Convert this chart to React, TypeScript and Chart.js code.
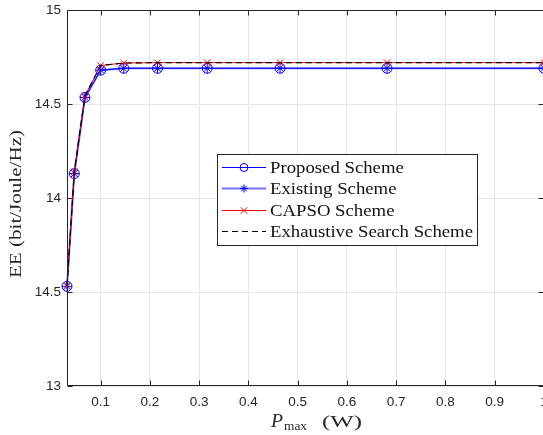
import React, { useEffect, useRef } from "react";
import { Chart, registerables } from "chart.js";

Chart.register(...registerables);

// ---- data ----
const pMax = [0.0316, 0.0464, 0.0681, 0.1, 0.1468, 0.2154, 0.3162, 0.4642, 0.6813, 1.0];
const proposed = [13.53, 14.13, 14.535, 14.68, 14.69, 14.69, 14.69, 14.69, 14.69, 14.69];
const existing = [13.53, 14.13, 14.535, 14.68, 14.69, 14.69, 14.69, 14.69, 14.69, 14.69];
const capso = [13.535, 14.14, 14.545, 14.705, 14.718, 14.72, 14.72, 14.72, 14.72, 14.72];
const exhaustive = [13.535, 14.14, 14.545, 14.705, 14.718, 14.72, 14.72, 14.72, 14.72, 14.72];

const seriesNames = ["Proposed Scheme", "Existing Scheme", "CAPSO Scheme", "Exhaustive Search Scheme"];

const xTicks = [0.1, 0.2, 0.3, 0.4, 0.5, 0.6, 0.7, 0.8, 0.9, 1.0];
const xTickLabels = ["0.1", "0.2", "0.3", "0.4", "0.5", "0.6", "0.7", "0.8", "0.9", "1"];
const yTicks = [13, 13.5, 14, 14.5, 15];
const yTickLabels = ["13", "14.5", "14", "14.5", "15"];

const xMin = 0.0316;
const xMax = 1.0;
const yMin = 13;
const yMax = 15;

const yTitle = "EE (bit/Joule/Hz)";
const xTitleMain = "P";
const xTitleSub = "max";
const xTitleUnit = "(W)";

const AX = "#262626";
const SERIF = "'Liberation Serif', 'Times New Roman', serif";
const SANS = "'Liberation Sans', Arial, sans-serif";

function toXY(xs: number[], ys: number[]) {
  return xs.map((x, i) => ({ x, y: ys[i] }));
}

function drawMarker(ctx: CanvasRenderingContext2D, kind: string, x: number, y: number, r: number, color: string) {
  ctx.save();
  ctx.strokeStyle = color;
  ctx.lineWidth = 1;
  ctx.setLineDash([]);
  ctx.beginPath();
  if (kind === "circle") {
    ctx.arc(x, y, r, 0, Math.PI * 2);
  } else if (kind === "star") {
    ctx.moveTo(x - r, y); ctx.lineTo(x + r, y);
    ctx.moveTo(x, y - r); ctx.lineTo(x, y + r);
    const d = r * 0.707;
    ctx.moveTo(x - d, y - d); ctx.lineTo(x + d, y + d);
    ctx.moveTo(x - d, y + d); ctx.lineTo(x + d, y - d);
  } else if (kind === "crossRot") {
    const d = r * 0.707;
    ctx.moveTo(x - d, y - d); ctx.lineTo(x + d, y + d);
    ctx.moveTo(x - d, y + d); ctx.lineTo(x + d, y - d);
  }
  ctx.stroke();
  ctx.restore();
}

function fitText(ctx: CanvasRenderingContext2D, text: string, x: number, y: number, width: number) {
  const w = ctx.measureText(text).width;
  ctx.save();
  ctx.translate(x, y);
  ctx.scale(width / w, 1);
  ctx.fillText(text, 0, 0);
  ctx.restore();
}

const overlayPlugin = {
  id: "overlay",
  afterDraw(chart: any) {
    const ctx: CanvasRenderingContext2D = chart.ctx;
    const a = chart.chartArea;
    const xs = chart.scales.x;
    const ys = chart.scales.y;
    ctx.save();

    // axes box
    const L = Math.round(a.left) + 0.5;
    const R = Math.round(a.right) - 0.5;
    const T = Math.round(a.top) + 0.5;
    const B = Math.round(a.bottom) - 0.5;
    ctx.strokeStyle = AX;
    ctx.lineWidth = 1;
    ctx.beginPath();
    ctx.rect(L, T, R - L, B - T);
    ctx.stroke();

    // inward tick marks
    const tl = 5;
    ctx.beginPath();
    xTicks.forEach((v) => {
      const px = Math.round(xs.getPixelForValue(v)) + 0.5;
      ctx.moveTo(px, B); ctx.lineTo(px, B - tl);
      ctx.moveTo(px, T); ctx.lineTo(px, T + tl);
    });
    yTicks.forEach((v) => {
      const py = Math.round(ys.getPixelForValue(v)) + 0.5;
      ctx.moveTo(L, py); ctx.lineTo(L + tl, py);
      ctx.moveTo(R, py); ctx.lineTo(R - tl, py);
    });
    ctx.stroke();

    // y title
    ctx.fillStyle = AX;
    ctx.font = `17px ${SERIF}`;
    ctx.textAlign = "center";
    ctx.textBaseline = "middle";
    {
      const w = ctx.measureText(yTitle).width;
      ctx.save();
      ctx.translate(17, 204);
      ctx.rotate(-Math.PI / 2);
      ctx.scale(148 / w, 1);
      ctx.fillText(yTitle, 0, 0);
      ctx.restore();
    }

    // x title
    ctx.textAlign = "left";
    ctx.textBaseline = "alphabetic";
    ctx.font = `italic 18px ${SERIF}`;
    fitText(ctx, xTitleMain, 271, 426.5, 12);
    ctx.font = `13px ${SERIF}`;
    fitText(ctx, xTitleSub, 284, 430, 23);
    ctx.font = `17px ${SERIF}`;
    fitText(ctx, xTitleUnit, 322, 426.5, 40);

    // legend
    const bx = 217.5, by = 154.5, bw = 260, bh = 91;
    ctx.fillStyle = "#ffffff";
    ctx.fillRect(bx, by, bw, bh);
    ctx.strokeStyle = AX;
    ctx.lineWidth = 1;
    ctx.strokeRect(bx, by, bw, bh);

    const rows = [166.7, 188.3, 210, 230.7];
    const styles = [
      { color: "#0000ff", width: 1, dash: [] as number[], marker: "circle", r: 4 },
      { color: "rgba(70,70,255,0.75)", width: 2, dash: [] as number[], marker: "star", r: 4, mcolor: "#0000ff" },
      { color: "#ff0000", width: 1, dash: [] as number[], marker: "crossRot", r: 4.5 },
      { color: "#000000", width: 1, dash: [6, 4], marker: "", r: 0 },
    ];
    ctx.font = `17px ${SERIF}`;
    const f = 203 / ctx.measureText(seriesNames[3]).width;
    rows.forEach((ry, i) => {
      const s: any = styles[i];
      const y = Math.round(ry) + 0.5;
      ctx.save();
      ctx.strokeStyle = s.color;
      ctx.lineWidth = s.width;
      ctx.setLineDash(s.dash);
      ctx.beginPath();
      ctx.moveTo(222, y);
      ctx.lineTo(266, y);
      ctx.stroke();
      ctx.restore();
      if (s.marker) drawMarker(ctx, s.marker, 244, y, s.r, s.mcolor || s.color);
      ctx.save();
      ctx.fillStyle = "#111111";
      ctx.textAlign = "left";
      ctx.textBaseline = "alphabetic";
      ctx.translate(270, ry + 6);
      ctx.scale(f, 1);
      ctx.fillText(seriesNames[i], 0, 0);
      ctx.restore();
    });

    ctx.restore();
  },
};

export default function App() {
  const ref = useRef<HTMLCanvasElement | null>(null);

  useEffect(() => {
    if (!ref.current) return;
    const chart = new Chart(ref.current, {
      type: "line",
      data: {
        datasets: [
          {
            label: seriesNames[0],
            data: toXY(pMax, proposed),
            borderColor: "#0000ff",
            backgroundColor: "rgba(0,0,0,0)",
            borderWidth: 1,
            pointStyle: "circle",
            pointRadius: 5,
            pointBorderWidth: 1,
            pointBorderColor: "#0000ff",
            pointBackgroundColor: "rgba(0,0,0,0)",
            tension: 0,
            clip: false as any,
            order: 2,
          },
          {
            label: seriesNames[1],
            data: toXY(pMax, existing),
            borderColor: "rgba(70,70,255,0.75)",
            backgroundColor: "rgba(0,0,0,0)",
            borderWidth: 2,
            pointStyle: "star",
            pointRadius: 5,
            pointBorderWidth: 1,
            pointBorderColor: "#0000ff",
            pointBackgroundColor: "rgba(0,0,0,0)",
            tension: 0,
            clip: false as any,
            order: 3,
          },
          {
            label: seriesNames[2],
            data: toXY(pMax, capso),
            borderColor: "#ff0000",
            backgroundColor: "rgba(0,0,0,0)",
            borderWidth: 1,
            pointStyle: "crossRot",
            pointRadius: 4.5,
            pointBorderWidth: 1,
            pointBorderColor: "#ff0000",
            tension: 0,
            clip: false as any,
            order: 1,
          },
          {
            label: seriesNames[3],
            data: toXY(pMax, exhaustive),
            borderColor: "#000000",
            backgroundColor: "rgba(0,0,0,0)",
            borderWidth: 1.2,
            borderDash: [6, 4],
            pointRadius: 0,
            tension: 0,
            clip: false as any,
            order: 0,
          },
        ],
      },
      options: {
        animation: false,
        responsive: false,
        maintainAspectRatio: false,
        layout: { padding: { left: 0, top: 10, right: 12, bottom: 0 } },
        plugins: {
          legend: { display: false },
          tooltip: { enabled: false },
        },
        scales: {
          x: {
            type: "linear",
            min: xMin,
            max: xMax,
            afterBuildTicks: (scale: any) => {
              scale.ticks = xTicks.map((v) => ({ value: v }));
            },
            afterFit: (scale: any) => {
              scale.height = 49;
              scale.paddingLeft = 0;
              scale.paddingRight = 0;
            },
            grid: { color: "#e6e6e6", lineWidth: 1, drawTicks: false },
            border: { display: false },
            ticks: {
              autoSkip: false,
              maxRotation: 0,
              padding: 8,
              color: AX,
              font: { family: SANS, size: 13.5 },
              callback: (_v: any, i: number) => xTickLabels[i],
            },
          },
          y: {
            type: "linear",
            min: yMin,
            max: yMax,
            afterBuildTicks: (scale: any) => {
              scale.ticks = yTicks.map((v) => ({ value: v }));
            },
            afterFit: (scale: any) => {
              scale.width = 67;
              scale.paddingTop = 0;
              scale.paddingBottom = 0;
            },
            grid: { color: "#e6e6e6", lineWidth: 1, drawTicks: false },
            border: { display: false },
            ticks: {
              padding: 6,
              color: AX,
              font: { family: SANS, size: 13.5 },
              callback: (_v: any, i: number) => yTickLabels[i],
            },
          },
        },
      },
      plugins: [overlayPlugin],
    });
    return () => chart.destroy();
  }, []);

  return (
    <div
      style={{
        position: "fixed",
        left: 0,
        top: 0,
        width: 543,
        height: 435,
        overflow: "hidden",
        background: "#ffffff",
      }}
    >
      <canvas ref={ref} width={556} height={435} style={{ display: "block", width: 556, height: 435 }} />
    </div>
  );
}
